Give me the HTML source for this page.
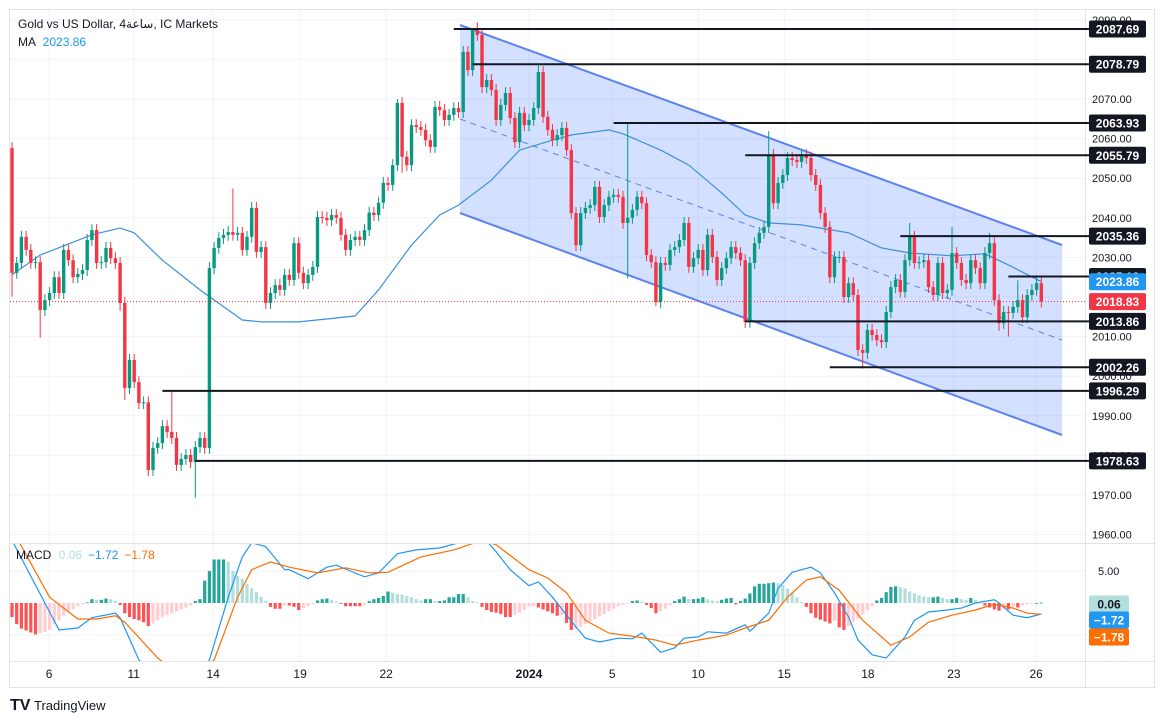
<!DOCTYPE html>
<html><head><meta charset="utf-8">
<style>
body{margin:0;background:#fff;width:1162px;height:723px;overflow:hidden;font-family:"Liberation Sans","DejaVu Sans",sans-serif;}
svg{position:absolute;left:0;top:0}
</style></head>
<body>
<svg id="chart" width="1162" height="723" viewBox="0 0 1162 723" xmlns="http://www.w3.org/2000/svg" font-family="Liberation Sans, DejaVu Sans, sans-serif">
<rect x="0" y="0" width="1162" height="723" fill="#fff"/>
<rect x="9.5" y="9.5" width="1145" height="678" fill="none" stroke="#e0e3eb"/>
<g id="grid"></g>
<g id="channel"></g>
<g id="ma"></g>
<g id="candles"></g>
<g id="levels"></g>
<g id="macd"></g>
<g id="axes"></g>
<g id="labels"></g>
<text x="18" y="28" font-size="12" fill="#131722">Gold vs US Dollar, 4ساعة, IC Markets</text>
<text x="18" y="46" font-size="12" fill="#131722">MA <tspan fill="#2196f3" dx="4">2023.86</tspan></text>
<text x="16" y="559" font-size="12" fill="#131722">MACD <tspan fill="#b2dfdb" dx="4">0.06</tspan><tspan fill="#2196f3" dx="6">−1.72</tspan><tspan fill="#ff6d00" dx="6">−1.78</tspan></text>
<g>
<text x="10" y="710" font-size="16" font-weight="bold" fill="#131722">TV</text>
<text x="34" y="710" font-size="13" fill="#131722">TradingView</text>
</g>
</svg>
<script>
const closes=[2026.1,2028.6,2035.2,2031.9,2028.6,2028.8,2016.7,2019.2,2021,2025,2021,2031.9,2029.3,2025,2025.8,2026.8,2034.4,2036.9,2028.6,2028.8,2032.4,2029.8,2028.6,2018.5,1997,2004.1,1998.5,1993.2,1993.4,1976.3,1981.9,1983.1,1987.4,1985.9,1984.4,1977.6,1979.1,1980.1,1978.3,1982.1,1984.4,1981.9,2027.3,2032.4,2034.9,2035.7,2036.4,2035.7,2036.2,2031.9,2035.2,2042.5,2031.4,2032.6,2018.5,2021,2023,2021.8,2025.6,2024.3,2033.6,2026.1,2023.5,2025.6,2027.6,2040.2,2040,2039.4,2040.7,2040,2035.7,2031.9,2034.4,2035.2,2034.4,2036.9,2041.3,2040.7,2043.8,2048.8,2048.3,2053.3,2069,2055.4,2053.3,2063.4,2062.9,2062.2,2059.6,2057.9,2068,2067.2,2064.7,2066,2067.7,2066.7,2081.9,2077.3,2087.4,2086.2,2073,2074.8,2072.3,2064.7,2068.5,2071.5,2065.2,2059.1,2066.5,2063.4,2064.7,2067.7,2076.8,2065.5,2062.2,2059.6,2060.9,2062.7,2057.1,2041.2,2033.1,2041.2,2042.5,2043.2,2047.8,2040.2,2043.2,2045.3,2045.8,2045.3,2038.7,2040,2042,2045.3,2043.7,2030.6,2028.8,2018.7,2028.6,2028.1,2031.9,2032.6,2034.4,2038.7,2027.6,2029.8,2031.9,2026.8,2035.7,2030.1,2024.3,2027.3,2029.8,2032.6,2031.1,2029.3,2013.7,2028.6,2033.6,2036.2,2037.7,2055.9,2043.7,2048.8,2050.8,2055.1,2054.6,2054.1,2055.9,2055.1,2050.8,2048.3,2041.2,2037.7,2025,2030.1,2030.1,2020,2023.5,2020.5,2006.6,2005.9,2011.7,2010.4,2009.1,2008.6,2016.2,2022.5,2024.3,2021.3,2029.3,2035.2,2028.6,2028.8,2029.3,2022.5,2020.5,2028.6,2021,2021.8,2031.1,2028.6,2024.3,2023.5,2029.3,2027.3,2023.5,2031.1,2033.6,2019.2,2013.4,2016.2,2016,2017.5,2019.2,2014.9,2020.5,2021.8,2023.5,2018.83];
const firstOpen=2057.6;
const wickHi={34:10.6,47:11,82:1,98:0.3,99:2,112:2,131:24,161:6,191:3.5,200:6.6,208:2.6,214:5};
const wickLo={0:6,6:7,23:2,24:3,39:9,83:4,131:14,137:1,181:4,210:2,212:6};
const maIdx=[0,6,17,23,26,32,40,49,53,61,73,78,85,91,95,102,108,115,119,127,130,138,144,151,156,161,168,172,178,185,191,200,207,212,219];
const maVal=[2025.6,2030.6,2035.7,2037.4,2036.2,2029.3,2021.8,2014.2,2013.7,2013.7,2015.2,2021.8,2033.1,2040.7,2043.2,2049.5,2057.1,2059.6,2060.9,2062.2,2061.2,2057.1,2053.3,2046.3,2040.7,2038.7,2038.2,2037.4,2036.2,2032.4,2031.1,2030.4,2030.9,2028.1,2023.86];
const levelPrices=[2087.69,2078.79,2063.93,2055.79,2035.36,2025.18,2013.86,2002.26,1996.29,1978.63];
const levelStartIdx=[94,98,128,156,189,212,156,174,32,39];
const priceTicks=[2090,2080,2070,2060,2050,2040,2030,2020,2010,2000,1990,1980,1970,1960];
const timeLabels=["6","11","14","19","22","2024","5","10","15","18","23","26"];
const timeIdx=[7.9,25.9,42.8,61.3,79.6,110,127.7,146,164.3,182.1,200.4,217.9];
const hist=[-2.2,-3.3,-4,-4.3,-4.6,-4.9,-4.7,-4.5,-4.2,
-3.3,-2.7,-2,-1.4,-1,-0.5,-0.2,0.1,
0.6,0.5,0.5,0.7,0.6,0.3,
-0.3,
-1.6,-2.2,-2.5,-2.7,-3,-3.6,
-3.2,-2.7,-2.2,-1.9,-1.6,-1.3,-1,-0.7,-0.4,
0.3,0.6,3.5,5,6.8,6.8,6.8,6.4,
5,4.2,3.8,3,2.3,1.7,1,0.3,
-0.6,-0.9,-0.9,-0.4,-0.4,-0.6,-1.1,-0.8,-0.5,
-0.2,0.4,0.6,0.7,0.5,0.2,-0.1,
-0.5,-0.5,-0.5,-0.5,-0.3,
0.3,0.6,0.8,1.1,1.8,1.6,1.4,1.3,1.1,0.9,0.6,0.4,0.6,0.6,0.3,0.3,0.4,0.9,0.9,1.4,1.4,0.9,0.3,0.1,
-0.6,-1.1,-1.4,-1.5,-1.7,-2.2,-2.2,-1.9,-1.5,-1.1,-0.6,-0.5,
-0.7,-1,-1.3,-1.6,-2,
-1.9,-3.1,-4.2,
-4,-3.7,-3.3,-2.9,-2.5,-2.1,-1.7,-1.3,-0.9,-0.5,
-0.3,-0.1,
0.3,0.4,0.2,
-0.3,-0.8,-1.6,
-1.3,-0.9,-0.4,
0.3,0.6,1,
0.6,0.6,0.7,0.9,0.6,0.4,0.3,
0.5,0.7,0.8,
-0.2,
0.3,0.7,1.5,2.6,
3,3,3.1,3.2,3.1,
2.8,2.2,1.6,0.9,0.2,
-0.6,-1.6,-2.3,-2.6,-2.9,-3.2,
-2.8,-3.8,-4.2,
-3.6,-3,-2.4,-1.8,-1.1,-0.5,
0.4,0.8,1.7,2.5,
2.6,2.5,2.3,
1.8,1.5,1.2,
1,0.9,0.9,1,0.8,0.6,
0.6,0.8,0.6,0.5,
0.8,0.5,0.2,
-0.4,-0.7,-1,-1.2,
-0.8,-1,-0.6,-0.7,-0.4,-0.2,
-0.1,0.0,0.06];
const macdIdx=[0,10,14,17,22,23,27,35,42,46,49,51,54,58,59,63,67,69,75,78,82,86,91,95,97,100,103,106,110,112,115,120,122,125,129,132,134,138,141,143,146,148,152,156,157,161,163,166,170,172,175,178,180,183,186,190,192,195,199,202,205,209,210,213,216,219];
const macdVal=[9.8,-4.2,-3.9,-2.3,-1.6,-2.3,-8.9,-14,-8.9,0.9,7.2,9.4,8.8,5.2,5.2,3.8,5.6,5.9,4.1,4.7,7.7,8.3,8.6,9.4,10.6,10.5,8,5.2,2.7,3.3,0.9,-3.75,-5.5,-6.1,-5.5,-5.6,-4.7,-7.7,-7,-5.5,-5.3,-4.5,-4.7,-3.4,-4.4,-1.6,2.3,4.8,5.6,4.7,1.6,-2.2,-5.8,-8.1,-8.6,-5.3,-2.7,-1.4,-1.1,-0.8,0,0.5,0,-1.9,-2.3,-1.72];
const sigIdx=[1,8,14,18,22,24,31,37,43,48,51,55,59,65,71,76,80,87,94,100,103,110,114,118,122,127,133,137,141,146,152,156,161,165,169,172,176,181,187,191,195,200,205,209,213,216,219];
const sigVal=[10.2,0.9,-2.5,-2.5,-2,-3,-8.6,-12,-8.9,0.9,5.2,6.4,5.6,4.7,5.5,4.7,4.8,7.2,8.3,9.8,9.1,5.2,3.9,1.6,-2.7,-4.7,-5.3,-5.8,-6.6,-5.8,-5,-3.9,-2.7,0.9,3.6,4.1,2,-2.7,-6.6,-5.3,-3,-1.9,-1.1,-0.2,-0.8,-1.6,-1.78];

const NS="http://www.w3.org/2000/svg";
const X0=12,DX=4.7,PL=10,PR=1085;
function xOf(i){return X0+i*DX;}
function yOf(p){return 99+(2070-p)*3.96;}
function yM(v){return 603-v*6.4;}
function mk(tag,parent,attrs){const e=document.createElementNS(NS,tag);for(const k in attrs)e.setAttribute(k,attrs[k]);document.getElementById(parent).appendChild(e);return e;}

const defs=document.createElementNS(NS,"defs");
defs.innerHTML='<clipPath id="cMain"><rect x="10" y="10" width="1075" height="533"/></clipPath><clipPath id="cMacd"><rect x="10" y="544" width="1075" height="117"/></clipPath>';
document.getElementById("chart").insertBefore(defs,document.getElementById("grid"));
document.getElementById("candles").setAttribute("clip-path","url(#cMain)");
document.getElementById("ma").setAttribute("clip-path","url(#cMain)");
document.getElementById("macd").setAttribute("clip-path","url(#cMacd)");

priceTicks.forEach(p=>{const g=mk("line","grid",{x1:PL,x2:PR,y1:yOf(p),y2:yOf(p),stroke:"#f0f3fa"});

});
[5,-5].forEach(v=>{const g=mk("line","grid",{x1:PL,x2:PR,y1:yM(v),y2:yM(v),stroke:"#f0f3fa"});

});
timeIdx.forEach(i=>{const g=mk("line","grid",{x1:xOf(i),x2:xOf(i),y1:10,y2:662,stroke:"#f0f3fa"});

});
{const s=mk("line","grid",{x1:PL,x2:1155,y1:543.5,y2:543.5,stroke:"#e0e3eb"});


const b=mk("line","grid",{x1:PL,x2:1155,y1:661.5,y2:661.5,stroke:"#e0e3eb"});


const r=mk("line","grid",{x1:1085.5,x2:1085.5,y1:10,y2:688,stroke:"#e0e3eb"});

}

{const ux1=460,ux2=1062,uy1=25,uy2=245,ly1=213,ly2=435,my1=119,my2=340;
const poly=mk("polygon","channel",{points:`${ux1},${uy1} ${ux2},${uy2} ${ux2},${ly2} ${ux1},${ly1}`,fill:"rgba(41,98,255,0.2)"});


const u=mk("line","channel",{x1:ux1,y1:uy1,x2:ux2,y2:uy2,stroke:"#5b82f0",'stroke-width':2});


const l=mk("line","channel",{x1:ux1,y1:ly1,x2:ux2,y2:ly2,stroke:"#5b82f0",'stroke-width':2});


const m=mk("line","channel",{x1:ux1,y1:my1,x2:ux2,y2:my2,stroke:"#5b82f0",'stroke-width':1,'stroke-dasharray':'6 5'});

}

{let d="";maIdx.forEach((i,k)=>{d+=(k?"L":"M")+xOf(i).toFixed(1)+","+yOf(maVal[k]).toFixed(1);});
const p=mk("path","ma",{d:d,fill:"none",stroke:"#3d8fe0",'stroke-width':1.2});

}

closes.forEach((c,i)=>{const o=i?closes[i-1]:firstOpen;const up=c>=o;const col=up?"#089981":"#f23645";
const top=Math.max(o,c),bot=Math.min(o,c);const hi=top+(wickHi[i]!==undefined?wickHi[i]:1.5);const lo=bot-(wickLo[i]!==undefined?wickLo[i]:1.5);
const x=xOf(i);
const w=mk("line","candles",{x1:x,x2:x,y1:yOf(hi),y2:yOf(lo),stroke:col,'stroke-width':1});


const y1=yOf(top),y2=yOf(bot);
const b=mk("rect","candles",{x:x-1.7,y:y1,width:3.4,height:Math.max(1,y2-y1),fill:col});

});

{const y=yOf(closes[closes.length-1]);const l=mk("line","levels",{x1:PL,x2:PR,y1:y,y2:y,stroke:"#f23645",'stroke-width':1,'stroke-dasharray':'1 2'});

}

levelPrices.forEach((p,k)=>{const y=yOf(p);const l=mk("line","levels",{x1:xOf(levelStartIdx[k]),x2:1090,y1:y,y2:y,stroke:"#131722",'stroke-width':2});

});

hist.forEach((v,i)=>{const prev=i?hist[i-1]:v;let col;
if(v>=0)col=(v>=prev)?"#26a69a":"#b2dfdb";else col=(v<=prev)?"#ff5252":"#ffcdd2";
const y0=yM(0),y1=yM(v);
const r=mk("rect","macd",{x:xOf(i)-1.6,y:Math.min(y0,y1),width:3.2,height:Math.max(0.8,Math.abs(y1-y0)),fill:col});

});
{let d="";macdIdx.forEach((i,k)=>{d+=(k?"L":"M")+xOf(i).toFixed(1)+","+yM(macdVal[k]).toFixed(1);});
const p=mk("path","macd",{d:d,fill:"none",stroke:"#2196f3",'stroke-width':1.2});


let d2="";sigIdx.forEach((i,k)=>{d2+=(k?"L":"M")+xOf(i).toFixed(1)+","+yM(sigVal[k]).toFixed(1);});
const s=mk("path","macd",{d:d2,fill:"none",stroke:"#ff6d00",'stroke-width':1.2});

}

priceTicks.forEach(p=>{const t=mk("text","axes",{x:1092,y:yOf(p)+4,'font-size':11,fill:"#131722"});t.textContent=p.toFixed(2);

});
{const t=mk("text","axes",{x:1098,y:yM(5)+4,'font-size':11,fill:"#131722"});t.textContent="5.00";

}
timeLabels.forEach((s,k)=>{const t=mk("text","axes",{x:xOf(timeIdx[k]),y:678,'font-size':12,fill:"#131722",'text-anchor':'middle','font-weight':s==="2024"?"bold":"normal"});t.textContent=s;

});

function tag(y,txt,bg,fg,x,w,name){const r=mk("rect","labels",{x:x,y:y-8.5,width:w,height:17,rx:2,fill:bg});


const t=mk("text","labels",{x:x+w/2,y:y+4.5,'font-size':12,'font-weight':'bold',fill:fg,'text-anchor':'middle'});t.textContent=txt;

}
levelPrices.forEach(p=>tag(yOf(p),p.toFixed(2),"#131722","#fff",1089,57,'level-price-label'));
tag(yOf(maVal[maVal.length-1]),"2023.86","#2196f3","#fff",1089,57,'ma-price-label');
tag(yOf(closes[closes.length-1]),closes[closes.length-1].toFixed(2),"#f23645","#fff",1089,57,'last-price-label');
tag(604,"0.06","#b2dfdb","#131722",1089,40,'histogram-value-label');
tag(620,"−1.72","#2196f3","#fff",1089,40,'macd-value-label');
tag(637,"−1.78","#ff6d00","#fff",1089,40,'signal-value-label');
</script>
</body></html>
